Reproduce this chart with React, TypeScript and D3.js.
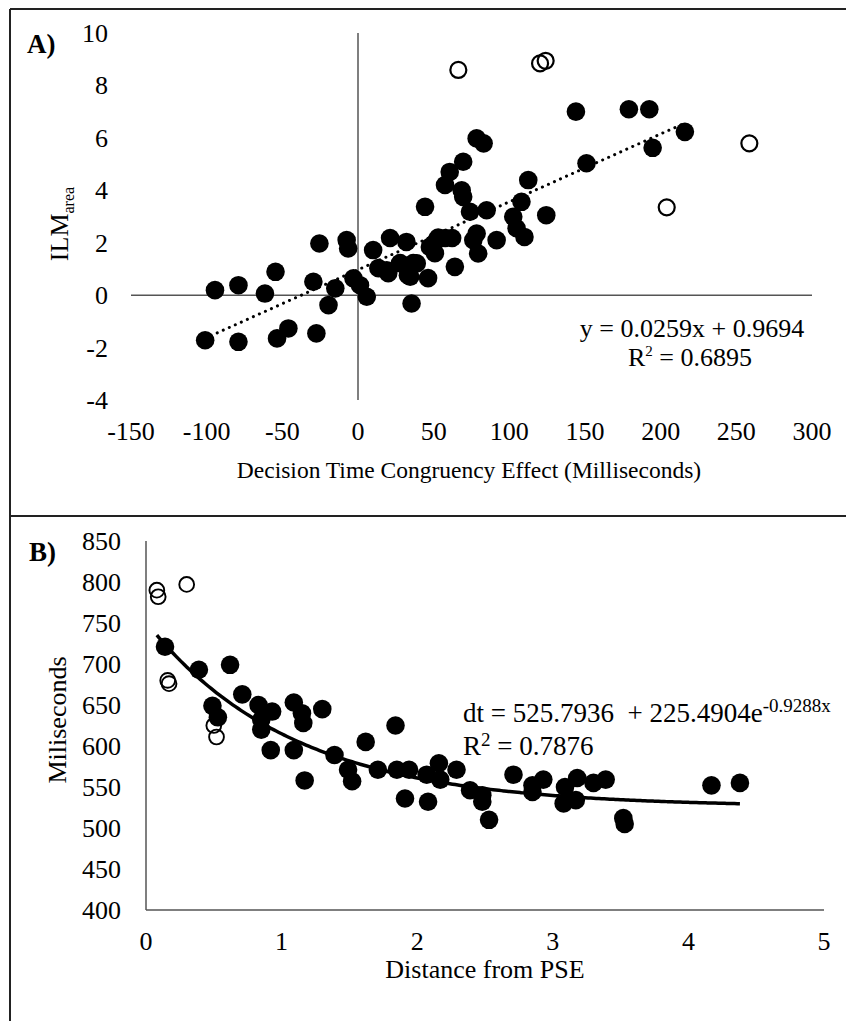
import React from 'react';
import * as d3 from 'd3';

const W = 846;
const H = 1021;
const FONT = '"Liberation Serif", "Times New Roman", serif';

// panel A: congruency effect vs ILM area
const aTicksX = [-150, -100, -50, 0, 50, 100, 150, 200, 250, 300];
const aTicksY = [-4, -2, 0, 2, 4, 6, 8, 10];
const aFilled: [number, number][] = [
  [-101, -1.72], [-94.5, 0.19], [-79, 0.38], [-79, -1.78], [-61.5, 0.06],
  [-54.5, 0.89], [-53.5, -1.65], [-46, -1.27], [-29.5, 0.51], [-27.5, -1.46],
  [-25.5, 1.97], [-19.5, -0.38], [-15, 0.26], [-7.5, 2.1], [-6.5, 1.78],
  [-3, 0.64], [1.3, 0.38], [5.8, -0.06], [10, 1.72], [13.5, 1.03],
  [19, 0.95], [20, 0.84], [21.2, 2.18], [27.8, 1.22], [32, 2.03],
  [33, 0.76], [34.5, 0.7], [35.4, -0.32], [36.5, 1.22], [38.8, 1.21],
  [44.3, 3.37], [46.3, 0.65], [47.5, 1.84], [50.8, 1.6], [52, 2.1],
  [53, 2.2], [57.5, 4.2], [57.6, 2.18], [60.6, 4.7], [62.2, 2.18],
  [64, 1.08], [68.5, 4.0], [69.5, 3.75], [69.5, 5.09], [74, 3.18],
  [76.2, 2.1], [78.4, 2.35], [79.4, 1.59], [78.4, 5.98], [83, 5.79],
  [85, 3.24], [91.6, 2.1], [102.6, 2.99], [104.8, 2.55], [108, 3.56],
  [110, 2.22], [112.5, 4.39], [124.4, 3.05], [144, 7.0], [151, 5.03],
  [179, 7.09], [192.5, 7.09], [194.7, 5.62], [216, 6.23],
];
const aOpen: [number, number][] = [
  [66.3, 8.59], [120.3, 8.84], [124, 8.94], [258.6, 5.79], [204, 3.35],
];
const aSlope = 0.0259;
const aIntercept = 0.9694;

// panel B: distance from PSE vs decision time
const bTicksX = [0, 1, 2, 3, 4, 5];
const bTicksY = [400, 450, 500, 550, 600, 650, 700, 750, 800, 850];
const bFilled: [number, number][] = [
  [0.14, 721], [0.39, 693], [0.62, 699], [0.71, 663], [0.49, 649],
  [0.53, 635], [0.83, 650], [0.93, 642], [0.85, 632], [0.85, 620],
  [0.92, 595], [1.09, 653], [1.15, 640], [1.16, 628], [1.3, 645],
  [1.09, 595], [1.17, 558], [1.39, 589], [1.62, 605], [1.84, 625],
  [1.49, 571], [1.52, 557], [1.71, 571], [1.85, 571], [1.94, 571],
  [1.91, 536], [2.07, 565], [2.08, 532], [2.16, 579], [2.17, 559],
  [2.29, 571], [2.39, 546], [2.48, 540], [2.48, 532], [2.53, 510],
  [2.71, 565], [2.85, 552], [2.93, 559], [2.85, 544], [3.09, 550],
  [3.18, 561], [3.08, 530], [3.17, 534], [3.3, 555], [3.39, 559],
  [3.52, 512], [3.53, 505], [4.17, 552], [4.38, 555],
];
const bOpen: [number, number][] = [
  [0.08, 790], [0.09, 782], [0.3, 797], [0.16, 680], [0.17, 676],
  [0.5, 625], [0.52, 611],
];
const bBase = 525.7936;
const bAmp = 225.4904;
const bRate = -0.9288;

export default function App() {
  const ax = d3.scaleLinear().domain([-150, 300]).range([131, 812]);
  const ay = d3.scaleLinear().domain([-4, 10]).range([400, 33]);
  const bx = d3.scaleLinear().domain([0, 5]).range([146, 824]);
  const by = d3.scaleLinear().domain([400, 850]).range([910, 541]);

  const aExt = d3.extent(aFilled, (d) => d[0]) as [number, number];
  const aTrend = d3
    .line<number>()
    .x((v) => ax(v))
    .y((v) => ay(aSlope * v + aIntercept))(aExt);

  const bExt = d3.extent(bFilled.concat(bOpen), (d) => d[0]) as [number, number];
  const bXs = d3.range(bExt[0], bFilled[bFilled.length - 1][0] + 0.001, 0.02);
  const bCurve = d3
    .line<number>()
    .x((v) => bx(v))
    .y((v) => by(bBase + bAmp * Math.exp(bRate * v)))
    .curve(d3.curveMonotoneX)(bXs);

  const axisStroke = '#555';

  return (
    <svg
      width={W}
      height={H}
      style={{ position: 'absolute', left: 0, top: 0, background: '#fff' }}
      fontFamily={FONT}
    >
      <rect width={W} height={H} fill='#fff' />
      {/* frames */}
      <line x1={10} y1={9} x2={W} y2={9} stroke='#222' strokeWidth={2} />
      <line x1={10} y1={9} x2={10} y2={H} stroke='#222' strokeWidth={2} />
      <line x1={10} y1={516} x2={W} y2={516} stroke='#222' strokeWidth={2} />

      {/* ---------- panel A ---------- */}
      <text x={27} y={53} fontSize={27} fontWeight='bold'>A)</text>
      <line x1={ax(-150)} y1={ay(0)} x2={ax(300)} y2={ay(0)} stroke={axisStroke} strokeWidth={1.5} />
      <line x1={ax(0)} y1={ay(-4)} x2={ax(0)} y2={ay(10)} stroke={axisStroke} strokeWidth={1.5} />
      {aTicksY.map((t) => (
        <text key={'ay' + t} x={108} y={ay(t) + 9} fontSize={26} textAnchor='end'>{t}</text>
      ))}
      {aTicksX.map((t) => (
        <text key={'ax' + t} x={ax(t)} y={440} fontSize={26} textAnchor='middle'>{t}</text>
      ))}
      <text transform={`translate(68, 224) rotate(-90)`} fontSize={26} textAnchor='middle'>
        ILM<tspan fontSize={16} dy={6}>area</tspan>
      </text>
      <text x={469} y={478} fontSize={23.5} textAnchor='middle'>
        Decision Time Congruency Effect (Milliseconds)
      </text>
      <path
        d={aTrend || ''}
        fill='none'
        stroke='#000'
        strokeWidth={3}
        strokeLinecap='round'
        strokeDasharray='0.1 6.5'
      />
      {aFilled.map((d, i) => (
        <circle key={'af' + i} cx={ax(d[0])} cy={ay(d[1])} r={9.3} fill='#000' />
      ))}
      {aOpen.map((d, i) => (
        <circle key={'ao' + i} cx={ax(d[0])} cy={ay(d[1])} r={8} fill='none' stroke='#000' strokeWidth={2.2} />
      ))}
      <text x={692} y={337} fontSize={26} textAnchor='middle'>y = 0.0259x + 0.9694</text>
      <text x={690} y={366} fontSize={26} textAnchor='middle'>
        R<tspan fontSize={15} dy={-10}>2</tspan><tspan dy={10}> = 0.6895</tspan>
      </text>

      {/* ---------- panel B ---------- */}
      <text x={29} y={561} fontSize={27} fontWeight='bold'>B)</text>
      <line x1={bx(0)} y1={by(400)} x2={bx(5)} y2={by(400)} stroke={axisStroke} strokeWidth={1.5} />
      <line x1={bx(0)} y1={by(400)} x2={bx(0)} y2={by(850)} stroke={axisStroke} strokeWidth={1.5} />
      {bTicksY.map((t) => (
        <text key={'by' + t} x={121} y={by(t) + 9} fontSize={26} textAnchor='end'>{t}</text>
      ))}
      {bTicksX.map((t) => (
        <text key={'bx' + t} x={bx(t)} y={950} fontSize={26} textAnchor='middle'>{t}</text>
      ))}
      <text transform={`translate(66, 720) rotate(-90)`} fontSize={26} textAnchor='middle'>
        Miliseconds
      </text>
      <text x={485} y={978} fontSize={26} textAnchor='middle'>Distance from PSE</text>
      <path d={bCurve || ''} fill='none' stroke='#000' strokeWidth={3.5} />
      {bFilled.map((d, i) => (
        <circle key={'bf' + i} cx={bx(d[0])} cy={by(d[1])} r={9.3} fill='#000' />
      ))}
      {bOpen.map((d, i) => (
        <circle key={'bo' + i} cx={bx(d[0])} cy={by(d[1])} r={7.4} fill='none' stroke='#000' strokeWidth={1.9} />
      ))}
      <text x={463} y={722} fontSize={27}>
        dt = 525.7936 {'\u00a0'}+ 225.4904e<tspan fontSize={19} dy={-10}>-0.9288x</tspan>
      </text>
      <text x={463} y={755} fontSize={27}>
        R<tspan fontSize={19} dy={-9}>2</tspan><tspan dy={9}> = 0.7876</tspan>
      </text>
    </svg>
  );
}
